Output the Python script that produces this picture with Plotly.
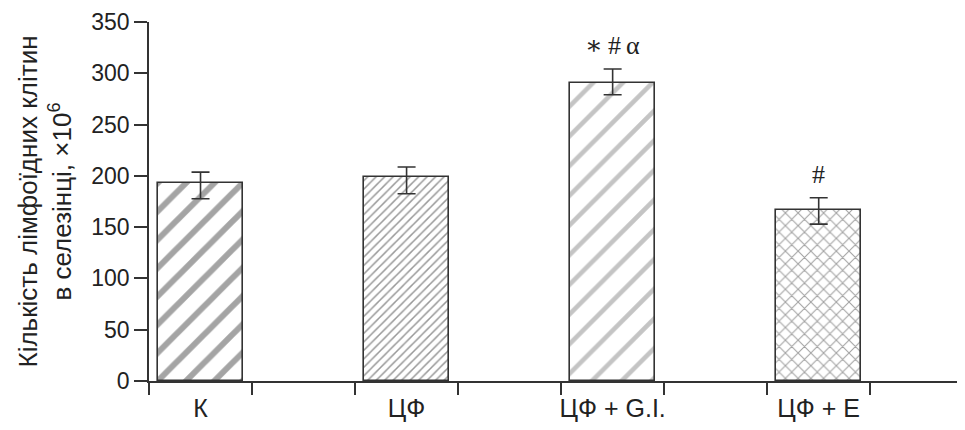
import plotly.graph_objects as go

categories = ["К", "ЦФ", "ЦФ + G.I.", "ЦФ + E"]
values = [192.6, 198.8, 290.8, 166.3]
err_plus = [11.0, 9.8, 13.4, 12.4]
err_minus = [14.9, 16.3, 11.7, 13.4]
marks = ["", "", "\u2217\u2009#\u2009α", "#"]
y_ticks = [0, 50, 100, 150, 200, 250, 300, 350]

patterns = [
    dict(shape="/", size=20, solidity=0.3, fgcolor="#4a4a4a", bgcolor="white"),
    dict(shape="/", size=6, solidity=0.25, fgcolor="#333333", bgcolor="white"),
    dict(shape="/", size=21, solidity=0.22, fgcolor="#8a8a8a", bgcolor="white"),
    dict(shape="x", size=9, solidity=0.22, fgcolor="#444444", bgcolor="white"),
]

xs = list(range(len(categories)))
fig = go.Figure()
for i in xs:
    fig.add_trace(go.Bar(
        x=[i], y=[values[i]], width=0.41,
        marker=dict(color="white", pattern=patterns[i],
                    line=dict(color="#333333", width=1.6)),
        error_y=dict(type="data", symmetric=False, array=[err_plus[i]],
                     arrayminus=[err_minus[i]], color="#333333",
                     thickness=1.6, width=9),
        showlegend=False,
    ))
    if marks[i]:
        fig.add_annotation(x=i, y=values[i] + err_plus[i], text=marks[i],
                           showarrow=False, yanchor="bottom", yshift=7,
                           font=dict(family="Liberation Serif, DejaVu Serif", size=26, color="#222222"))

minor_vals = []
for i in xs:
    minor_vals += [i - 0.25, i + 0.25]

fig.update_layout(
    width=957, height=422,
    margin=dict(l=141, r=0, t=14, b=49),
    plot_bgcolor="white", paper_bgcolor="white",
    font=dict(family="Liberation Sans, Arial", size=22, color="#222222"),
    bargap=0,
)
fig.update_xaxes(
    range=[-0.25, 3.71], tickvals=xs, ticktext=categories,
    ticks="outside", ticklen=0, tickcolor="#333333",
    ticklabelstandoff=4,
    showline=True, linecolor="#333333", linewidth=1.6,
    showgrid=False, zeroline=False,
    minor=dict(tickvals=minor_vals, ticks="outside", ticklen=12,
               tickcolor="#333333", tickwidth=1.6, showgrid=False),
    tickfont=dict(size=25),
)
fig.update_yaxes(
    range=[0, 350], tickvals=y_ticks,
    ticks="outside", ticklen=13, tickcolor="#333333", tickwidth=1.6,
    showline=True, linecolor="#333333", linewidth=1.6,
    showgrid=False, zeroline=False,
    tickfont=dict(size=23),
    title=dict(text="Кількість лімфоїдних клітин<br>в селезінці, ×10<sup>6</sup>",
               font=dict(size=26), standoff=12),
)
fig.write_html("out.html")
